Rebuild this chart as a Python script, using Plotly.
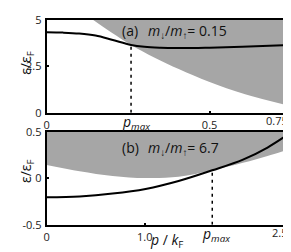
import plotly.graph_objects as go

W, H = 291, 252

# ---------------- data: panel (a), m_down/m_up = 0.15 ----------------
pa_curve = [0.0, 0.05, 0.10, 0.15, 0.20, 0.259, 0.30, 0.35, 0.40, 0.45, 0.50, 0.60, 0.75]
ea_curve = [4.33, 4.31, 4.26, 4.15, 3.93, 3.65, 3.55, 3.50, 3.48, 3.48, 3.50, 3.55, 3.64]
pa_bound = [0.142, 0.20, 0.259, 0.33, 0.407, 0.498, 0.609, 0.75]
ea_bound = [5.0, 4.30, 3.65, 2.98, 2.34, 1.67, 1.00, 0.36]
PMAX_A = 0.259
E_PMAX_A = 3.65
XA_RANGE = [0, 0.75]
YA_RANGE = [0, 5]
xa_ticks = [0, 0.5, 0.75]
xa_text = ["0", "0.5", "0.75"]
ya_ticks = [0, 2.5, 5]
ya_text = ["0", "2.5", "5"]

# ---------------- data: panel (b), m_down/m_up = 6.7 ----------------
pb = [0.0, 0.336, 0.672, 1.008, 1.344, 1.687, 2.0, 2.25, 2.5]
eb_curve = [-0.204, -0.195, -0.165, -0.115, -0.03, 0.085, 0.20, 0.33, 0.5]
eb_bound = [0.143, 0.076, 0.025, 0.002, 0.015, 0.085, 0.165, 0.24, 0.32]
PMAX_B = 1.687
E_PMAX_B = 0.085
XB_RANGE = [0, 2.5]
YB_RANGE = [-0.5, 0.5]
xb_ticks = [0, 1.0, 2.5]
xb_text = ["0", "1.0", "2.5"]
yb_ticks = [-0.5, 0, 0.5]
yb_text = ["-0.5", "0", "0.5"]

GRAY = "#a6a6a6"
FONT = "Open Sans"
TICKFONT = dict(family=FONT, size=11, color="#222")

fig = go.Figure()

# panel (a) gray continuum
fig.add_trace(go.Scatter(x=pa_bound, y=[YA_RANGE[1]] * len(pa_bound), mode="lines",
                         line=dict(width=0, color=GRAY), xaxis="x", yaxis="y",
                         showlegend=False, hoverinfo="skip"))
fig.add_trace(go.Scatter(x=pa_bound, y=ea_bound, mode="lines", fill="tonexty",
                         fillcolor=GRAY, line=dict(width=0, color=GRAY, shape="spline"),
                         xaxis="x", yaxis="y", showlegend=False, hoverinfo="skip"))
fig.add_trace(go.Scatter(x=[PMAX_A, PMAX_A], y=[YA_RANGE[0], E_PMAX_A], mode="lines",
                         line=dict(color="black", width=1.5, dash="3px,4px"),
                         xaxis="x", yaxis="y", showlegend=False))
fig.add_trace(go.Scatter(x=pa_curve, y=ea_curve, mode="lines",
                         line=dict(color="black", width=2, shape="spline"),
                         xaxis="x", yaxis="y", showlegend=False))

# panel (b)
fig.add_trace(go.Scatter(x=pb, y=[YB_RANGE[1]] * len(pb), mode="lines",
                         line=dict(width=0, color=GRAY), xaxis="x2", yaxis="y2",
                         showlegend=False, hoverinfo="skip"))
fig.add_trace(go.Scatter(x=pb, y=eb_bound, mode="lines", fill="tonexty",
                         fillcolor=GRAY, line=dict(width=0, color=GRAY, shape="spline"),
                         xaxis="x2", yaxis="y2", showlegend=False, hoverinfo="skip"))
fig.add_trace(go.Scatter(x=[PMAX_B, PMAX_B], y=[YB_RANGE[0], E_PMAX_B], mode="lines",
                         line=dict(color="black", width=1.5, dash="3px,4px"),
                         xaxis="x2", yaxis="y2", showlegend=False))
fig.add_trace(go.Scatter(x=pb, y=eb_curve, mode="lines",
                         line=dict(color="black", width=2, shape="spline"),
                         xaxis="x2", yaxis="y2", showlegend=False))

axis_common = dict(showline=True, mirror=True, linewidth=2, linecolor="black",
                   showgrid=False, zeroline=False, ticks="inside", ticklen=2,
                   tickwidth=1.5, tickcolor="black", tickfont=TICKFONT,
                   ticklabelstandoff=1)

# last x tick label at the right edge is written as an annotation (kept inside the window)
xa_axis_text = xa_text[:-1] + [""]
xb_axis_text = xb_text[:-1] + [""]

fig.update_layout(
    width=W, height=H,
    margin=dict(l=0, r=0, t=0, b=0),
    paper_bgcolor="white", plot_bgcolor="white",
    xaxis=dict(domain=[36 / W, 283 / W], anchor="y", range=XA_RANGE,
               tickvals=xa_ticks, ticktext=xa_axis_text, **axis_common),
    yaxis=dict(domain=[1 - 103 / H, 1 - 4 / H], anchor="x", range=YA_RANGE,
               tickvals=ya_ticks, ticktext=ya_text, **axis_common),
    xaxis2=dict(domain=[36 / W, 284 / W], anchor="y2", range=XB_RANGE,
                tickvals=xb_ticks, ticktext=xb_axis_text, **axis_common),
    yaxis2=dict(domain=[1 - 222 / H, 1 - 123 / H], anchor="x2", range=YB_RANGE,
                tickvals=yb_ticks, ticktext=yb_text, **axis_common),
)

def ann(text, x, y, size=14, xanchor="left", xref="paper", angle=0, xshift=0,
        color="#111"):
    fig.add_annotation(text=text, x=x, y=y, xref=xref, yref="paper",
                       xanchor=xanchor, yanchor="middle", showarrow=False,
                       textangle=angle, xshift=xshift,
                       font=dict(family=FONT, size=size, color=color))

PMAX_TXT = "<i>p</i><sub><i>max</i></sub>"
MA = "<i>m</i><sub>↓</sub>/<i>m</i><sub>↑</sub>= "

ann("(a)", 110 / W, 1 - 15 / H)
ann(MA + "0.15", 136 / W, 1 - 16 / H)
ann("(b)", 110 / W, 1 - 140 / H)
ann(MA + "6.7", 136 / W, 1 - 141 / H)

ann(PMAX_TXT, PMAX_A, 1 - 113 / H, size=14, xanchor="center", xref="x", xshift=5)
ann(PMAX_TXT, PMAX_B, 1 - 232 / H, size=14, xanchor="center", xref="x2", xshift=4)

ann(xa_text[-1], 282 / W, 1 - 111 / H, size=11, xanchor="right", color="#222")
ann(xb_text[-1], 281 / W, 1 - 230 / H, size=11, xanchor="right", color="#222")

ann("ε/ε<sub>F</sub>", 15 / W, 1 - 50 / H, size=14, xanchor="center", angle=-90)
ann("ε/ε<sub>F</sub>", 15 / W, 1 - 165 / H, size=14, xanchor="center", angle=-90)

ann("<i>p</i> / <i>k</i><sub>F</sub>", 157 / W, 1 - 239 / H, size=14, xanchor="center")

fig.write_html("out.html")
